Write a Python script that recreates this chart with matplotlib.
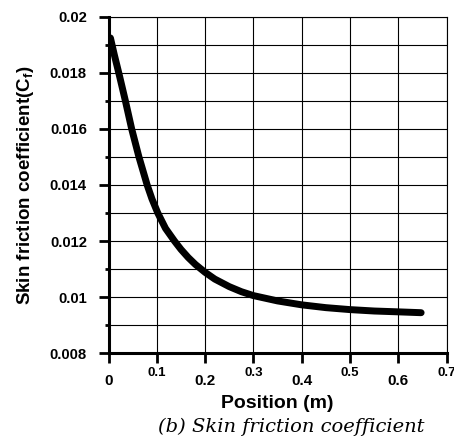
import matplotlib
matplotlib.use("Agg")
import matplotlib.pyplot as plt
from matplotlib.ticker import FixedLocator, NullFormatter

# Skin friction coefficient along the plate
position = [0.004, 0.012, 0.022, 0.035, 0.048, 0.063, 0.080, 0.090, 0.102,
            0.118, 0.1365, 0.150, 0.165, 0.180, 0.200, 0.220, 0.250, 0.275,
            0.300, 0.350, 0.400, 0.450, 0.500, 0.550, 0.600, 0.647]
cf = [0.01925, 0.01865, 0.01795, 0.01700, 0.01600, 0.01500, 0.01400, 0.01350,
      0.01300, 0.01245, 0.01200, 0.01170, 0.01141, 0.01116, 0.01088, 0.01064,
      0.01037, 0.01019, 0.01005, 0.00986, 0.00972, 0.00962, 0.00955, 0.00950,
      0.00947, 0.00944]

x_major = [0.0, 0.2, 0.4, 0.6]
x_major_labels = ["0", "0.2", "0.4", "0.6"]
x_minor = [0.1, 0.3, 0.5, 0.7]
x_minor_labels = ["0.1", "0.3", "0.5", "0.7"]
y_major = [0.008, 0.010, 0.012, 0.014, 0.016, 0.018, 0.020]
y_major_labels = ["0.008", "0.01", "0.012", "0.014", "0.016", "0.018", "0.02"]
y_minor = [0.009, 0.011, 0.013, 0.015, 0.017, 0.019]

plt.rcParams["font.family"] = ["Liberation Sans", "DejaVu Sans"]
plt.rcParams["mathtext.fontset"] = "custom"
plt.rcParams["mathtext.bf"] = "Liberation Sans:bold"
plt.rcParams["mathtext.rm"] = "Liberation Sans:bold"
plt.rcParams["mathtext.it"] = "Liberation Sans:bold"

fig = plt.figure(figsize=(4.54, 4.41), dpi=100)
ax = fig.add_axes([0.239, 0.1995, 0.745, 0.762])

ax.plot(position, cf, color="black", lw=5, solid_capstyle="round", zorder=3)

ax.set_xlim(0, 0.7)
ax.set_ylim(0.008, 0.020)

# grid on every 0.1 in x and every 0.001 in y
for gx in x_major + x_minor:
    ax.axvline(gx, color="black", lw=0.8, zorder=1)
for gy in y_major + y_minor:
    ax.axhline(gy, color="black", lw=0.8, zorder=1)

ax.xaxis.set_major_locator(FixedLocator(x_major))
ax.xaxis.set_minor_locator(FixedLocator(x_minor))
ax.set_xticklabels(x_major_labels)
ax.set_xticklabels(x_minor_labels, minor=True)
ax.tick_params(axis="x", which="major", direction="out", length=7, width=2,
               labelsize=11, pad=8)
ax.tick_params(axis="x", which="minor", direction="out", length=7, width=2,
               labelsize=9.5, pad=3)

ax.yaxis.set_major_locator(FixedLocator(y_major))
ax.yaxis.set_minor_locator(FixedLocator(y_minor))
ax.set_yticklabels(y_major_labels)
ax.yaxis.set_minor_formatter(NullFormatter())
ax.tick_params(axis="y", which="major", direction="out", length=7, width=2,
               labelsize=10.7, pad=8.5)
ax.tick_params(axis="y", which="minor", direction="out", length=3, width=2)

for lab in ax.get_xticklabels(which="both") + ax.get_yticklabels():
    lab.set_fontweight("bold")

ax.spines["left"].set_linewidth(2.2)
ax.spines["bottom"].set_linewidth(2.2)
ax.spines["top"].set_linewidth(0.8)
ax.spines["right"].set_linewidth(0.8)

ax.set_xlabel("Position (m)", fontsize=14, fontweight="bold", labelpad=5)
ax.set_ylabel("Skin friction coefficient(C$_f$)", fontsize=13.5,
              fontweight="bold", labelpad=10)

fig.text(0.641, 0.032, "(b) Skin friction coefficient", ha="center",
         va="center", fontsize=14, family="DejaVu Serif", style="italic")

fig.savefig("out.png", dpi=100)
